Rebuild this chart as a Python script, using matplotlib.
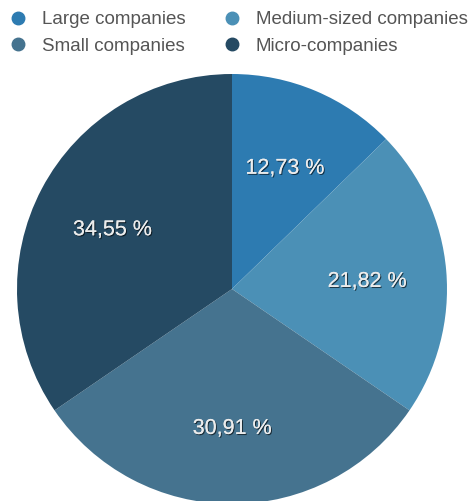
import matplotlib
matplotlib.use("Agg")
import matplotlib.pyplot as plt
import matplotlib.patheffects as pe
import matplotlib.transforms as mtransforms
from matplotlib.lines import Line2D

categories = ["Large companies", "Medium-sized companies", "Small companies", "Micro-companies"]
values = [12.73, 21.82, 30.91, 34.55]
labels = ["12,73 %", "21,82 %", "30,91 %", "34,55 %"]
colors = ["#2d7bb1", "#4b90b6", "#45738f", "#254a63"]

plt.rcParams['font.family'] = ['Liberation Sans', 'DejaVu Sans']

fig = plt.figure(figsize=(4.74, 5.01), dpi=100)
ax = fig.add_axes([17/474, -3/501, 430/474, 430/501])
wedges, texts = ax.pie(values, colors=colors, startangle=90, counterclock=False,
                       labels=labels, labeldistance=0.63,
                       wedgeprops=dict(linewidth=0),
                       textprops=dict(color="#ececec", fontsize=15.5, ha="center", va="center"))
shift = mtransforms.ScaledTranslation(0, -4/100, fig.dpi_scale_trans)
for t in texts:
    t.set_transform(t.get_transform() + shift)
    t.set_path_effects([pe.withSimplePatchShadow(offset=(0.8, -0.8), shadow_rgbFace="#000000", alpha=0.6),
                        pe.Normal()])
ax.set_aspect("equal")
ax.set_xlim(-1, 1)
ax.set_ylim(-1, 1)
ax.axis("off")

order = [0, 2, 1, 3]
handles = [Line2D([0], [0], marker="o", linestyle="none", markersize=9,
                  markerfacecolor=colors[i], markeredgecolor=colors[i]) for i in order]
fig.legend(handles, [categories[i] for i in order], ncol=2, loc="upper left",
           bbox_to_anchor=(9/474, 490/501), frameon=False, fontsize=13.5,
           borderpad=0, borderaxespad=0, handlelength=1.0,
           handletextpad=0.75, columnspacing=2.0, labelspacing=0.5,
           labelcolor="#555555")

fig.savefig("out.png", dpi=100)
